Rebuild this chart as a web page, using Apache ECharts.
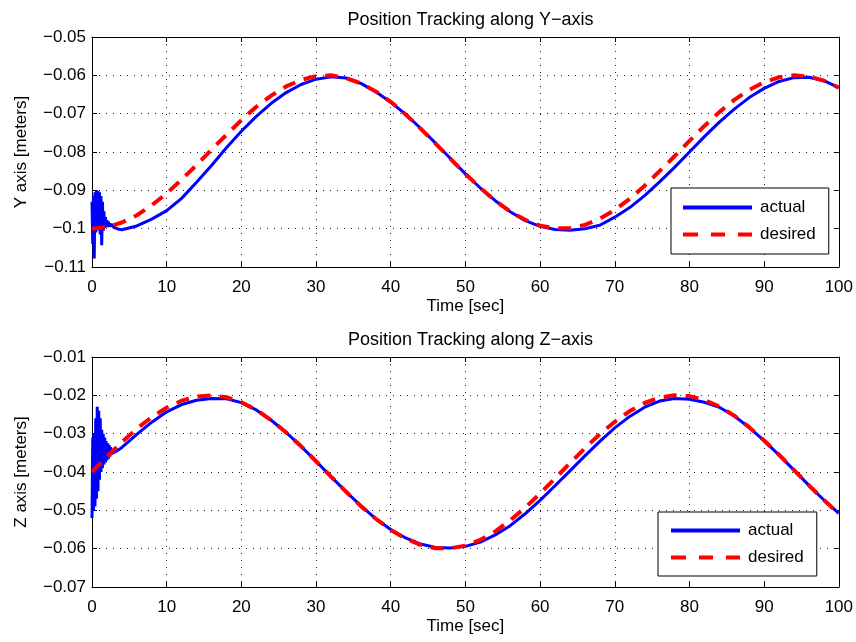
<!DOCTYPE html>
<html>
<head>
<meta charset="utf-8">
<script src="https://cdn.jsdelivr.net/npm/echarts@6/dist/echarts.min.js"></script>
<style>
html,body{margin:0;padding:0;background:#fff;}
#chart{width:856px;height:642px;}
</style>
</head>
<body>
<div id="chart"></div>
<script>
// ---------- data ----------
const titles = ['Position Tracking along Y\u2212axis', 'Position Tracking along Z\u2212axis'];
const yNames = ['Y axis [meters]', 'Z axis [meters]'];
const xName = 'Time [sec]';
const seriesNames = ['actual', 'desired'];

const timeDesired = [0,2,4,6,8,10,12,14,16,18,20,22,24,26,28,30,32,34,36,38,40,42,44,46,48,50,
  52,54,56,58,60,62,64,66,68,70,72,74,76,78,80,82,84,86,88,90,92,94,96,98,100];

const desiredY = [-0.1000,-0.0996,-0.0984,-0.0965,-0.0939,-0.0908,-0.0872,-0.0834,-0.0794,-0.0755,
  -0.0717,-0.0682,-0.0653,-0.0629,-0.0612,-0.0602,-0.0600,-0.0607,-0.0621,-0.0642,
  -0.0669,-0.0702,-0.0739,-0.0778,-0.0818,-0.0857,-0.0894,-0.0927,-0.0955,-0.0977,
  -0.0992,-0.0999,-0.0999,-0.0990,-0.0974,-0.0951,-0.0922,-0.0888,-0.0850,-0.0811,
  -0.0771,-0.0732,-0.0696,-0.0664,-0.0638,-0.0618,-0.0605,-0.0600,-0.0603,-0.0614,-0.0632];

const desiredZ = [-0.0400,-0.0360,-0.0322,-0.0287,-0.0257,-0.0232,-0.0214,-0.0203,-0.0200,-0.0205,
  -0.0218,-0.0238,-0.0265,-0.0297,-0.0333,-0.0372,-0.0412,-0.0451,-0.0489,-0.0522,
  -0.0551,-0.0574,-0.0590,-0.0599,-0.0599,-0.0592,-0.0577,-0.0555,-0.0526,-0.0493,
  -0.0456,-0.0417,-0.0377,-0.0338,-0.0301,-0.0269,-0.0241,-0.0220,-0.0206,-0.0200,
  -0.0202,-0.0212,-0.0229,-0.0253,-0.0283,-0.0318,-0.0355,-0.0395,-0.0435,-0.0473,-0.0509];

const timeActual = [0,0.1,0.2,0.3,0.4,0.5,0.6,0.7,0.8,0.9,1.0,1.1,1.2,1.3,1.4,1.5,1.6,1.7,1.8,1.9,
  2.0,2.1,2.2,2.3,2.4,2.5,2.6,2.7,2.8,2.9,3.0,3.5,
  4,6,8,10,12,14,16,18,20,22,24,26,28,30,32,34,36,38,40,42,44,46,48,50,
  52,54,56,58,60,62,64,66,68,70,72,74,76,78,80,82,84,86,88,90,92,94,96,98,100];

const actualY = [-0.0930,-0.1040,-0.0915,-0.1078,-0.0905,-0.1010,-0.0900,-0.1005,-0.0902,-0.1002,
  -0.0905,-0.1015,-0.0915,-0.1043,-0.0930,-0.1005,-0.0955,-0.0998,-0.0970,-0.0995,
  -0.0978,-0.0996,-0.0982,-0.0994,-0.0986,-0.0995,-0.0988,-0.0993,-0.0990,-0.0996,-0.0998,-0.1001,
  -0.1003,-0.0993,-0.0975,-0.0953,-0.0921,-0.0879,-0.0835,-0.0789,-0.0746,-0.0707,-0.0673,-0.0645,
  -0.0624,-0.0610,-0.0604,-0.0607,-0.0621,-0.0643,-0.0670,-0.0702,-0.0738,-0.0777,-0.0817,-0.0857,
  -0.0894,-0.0927,-0.0956,-0.0979,-0.0994,-0.1002,-0.1004,-0.1000,-0.0991,-0.0970,-0.0945,-0.0914,
  -0.0878,-0.0840,-0.0800,-0.0760,-0.0722,-0.0688,-0.0658,-0.0634,-0.0616,-0.0606,-0.0605,-0.0614,-0.0632];

const actualZ = [-0.0520,-0.0310,-0.0500,-0.0300,-0.0490,-0.0260,-0.0470,-0.0230,-0.0450,-0.0240,
  -0.0420,-0.0260,-0.0400,-0.0290,-0.0390,-0.0300,-0.0380,-0.0310,-0.0375,-0.0320,
  -0.0370,-0.0325,-0.0365,-0.0330,-0.0360,-0.0335,-0.0355,-0.0340,-0.0350,-0.0345,-0.0348,-0.0343,
  -0.0336,-0.0302,-0.0270,-0.0243,-0.0224,-0.0213,-0.0208,-0.0209,-0.0219,-0.0238,-0.0265,-0.0297,
  -0.0333,-0.0372,-0.0412,-0.0451,-0.0488,-0.0522,-0.0550,-0.0572,-0.0588,-0.0597,-0.0598,-0.0594,
  -0.0583,-0.0564,-0.0540,-0.0509,-0.0474,-0.0436,-0.0397,-0.0358,-0.0320,-0.0285,-0.0255,-0.0231,
  -0.0215,-0.0208,-0.0210,-0.0218,-0.0231,-0.0254,-0.0284,-0.0318,-0.0356,-0.0395,-0.0435,-0.0473,-0.0508];

const xTicks = {min: 0, max: 100, interval: 10};
const yTicks = [{min: -0.11, max: -0.05, interval: 0.01}, {min: -0.07, max: -0.01, interval: 0.01}];

// ---------- chart ----------
const FONT = 'Liberation Sans, Arial, Helvetica, sans-serif';
const FS = 17;
const pair = (t, v) => t.map((x, i) => [x, v[i]]);
const fmtY = v => String(parseFloat((+v).toFixed(3))).replace('-', '\u2212');

const grids = [
  {left: 92, top: 37, width: 747, height: 230},
  {left: 92, top: 357, width: 747, height: 230}
];

const axisLine = {show: true, onZero: false, lineStyle: {color: '#000', width: 1}};
const tick = {show: true, inside: true, length: 5, lineStyle: {color: '#000'}};
const grid_split = {show: true, lineStyle: {color: '#222', width: 1, type: [1, 6]}};

const xAxis = [], yAxis = [], series = [], title = [];
grids.forEach((g, gi) => {
  xAxis.push({
    gridIndex: gi, type: 'value', position: 'bottom', ...xTicks,
    axisLine, axisTick: tick, splitLine: grid_split,
    axisLabel: {color: '#000', fontSize: FS, fontFamily: FONT, margin: 12},
    name: xName, nameLocation: 'middle', nameGap: 31,
    nameTextStyle: {color: '#000', fontSize: FS, fontFamily: FONT}
  });
  xAxis.push({
    gridIndex: gi, type: 'value', position: 'top', ...xTicks,
    axisLine, axisTick: tick, splitLine: {show: false}, axisLabel: {show: false}
  });
  yAxis.push({
    gridIndex: gi, type: 'value', position: 'left', ...yTicks[gi],
    axisLine, axisTick: tick, splitLine: grid_split,
    axisLabel: {color: '#000', fontSize: FS, fontFamily: FONT, margin: 6, formatter: fmtY},
    name: yNames[gi], nameLocation: 'middle', nameGap: 62, nameRotate: 90,
    nameTextStyle: {color: '#000', fontSize: FS, fontFamily: FONT}
  });
  yAxis.push({
    gridIndex: gi, type: 'value', position: 'right', ...yTicks[gi],
    axisLine, axisTick: tick, splitLine: {show: false}, axisLabel: {show: false}
  });
  title.push({
    text: titles[gi], left: g.left + g.width / 2, top: g.top - 31, textAlign: 'center',
    textStyle: {color: '#000', fontSize: 18, fontWeight: 'normal', fontFamily: FONT}
  });
});

const actuals = [actualY, actualZ];
const desireds = [desiredY, desiredZ];
[0, 1].forEach(gi => {
  series.push({
    name: seriesNames[0], type: 'line', xAxisIndex: gi * 2, yAxisIndex: gi * 2,
    data: pair(timeActual, actuals[gi]), symbol: 'none', showSymbol: false, animation: false,
    lineStyle: {color: '#0000ff', width: 3}, itemStyle: {color: '#0000ff'}, z: 2
  });
  series.push({
    name: seriesNames[1], type: 'line', xAxisIndex: gi * 2, yAxisIndex: gi * 2,
    data: pair(timeDesired, desireds[gi]), symbol: 'none', showSymbol: false, animation: false,
    lineStyle: {color: '#ff0000', width: 4, type: [13, 9]}, itemStyle: {color: '#ff0000'}, z: 3
  });
});

const solidIcon = 'path://M0,0H69V4H0Z';
const dashIcon = 'path://M0,0H15V4H0Z M28,0H42V4H28Z M55,0H69V4H55Z';
const legendBase = {
  data: [{name: seriesNames[0], icon: solidIcon}, {name: seriesNames[1], icon: dashIcon}],
  orient: 'vertical', itemWidth: 69, itemHeight: 4, itemGap: 10,
  borderColor: '#000', borderWidth: 1, backgroundColor: '#fff', borderRadius: 0,
  selectedMode: false, z: 10,
  textStyle: {color: '#000', fontSize: FS, fontFamily: FONT, padding: [0, 0, 0, 3]}
};
const legend = [
  {...legendBase, left: 671, top: 188, padding: [11, 13, 11, 12]},
  {...legendBase, left: 658, top: 512, padding: [10, 13, 10, 13]}
];

const chart = echarts.init(document.getElementById('chart'), null, {renderer: 'canvas'});
chart.setOption({
  animation: false, backgroundColor: '#fff',
  title, grid: grids, xAxis, yAxis, series, legend
});
</script>
</body>
</html>
